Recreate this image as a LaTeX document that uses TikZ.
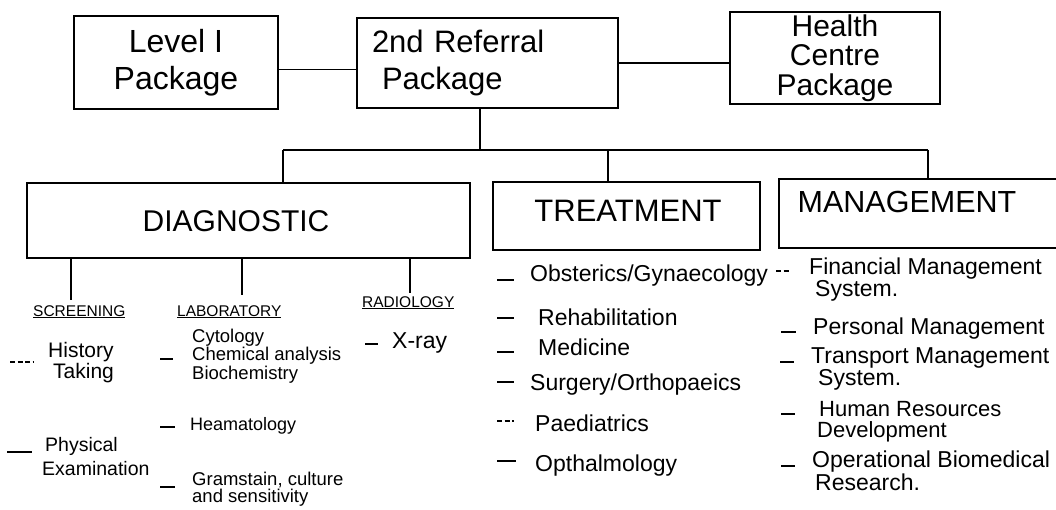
\documentclass[tikz,border=0pt]{standalone}
\usepackage{fontspec}
\setmainfont{Liberation Sans}
\usetikzlibrary{calc}
\newcommand{\fs}[2]{\fontsize{#1}{#2}\selectfont}
\begin{document}
\begin{tikzpicture}[x=1pt,y=-1pt,
  pkgbox/.style={draw, line width=2pt, inner sep=0pt},
  areabox/.style={draw, line width=2pt, inner sep=0pt},
  thinlink/.style={line width=1.1pt},
  trunk/.style={line width=2.2pt},
  tick/.style={line width=1.4pt},
  dottick/.style={line width=1.4pt, dash pattern=on 5pt off 2.5pt},
  areatext/.style={inner sep=0pt, anchor=base},
  head/.style={inner sep=0pt, anchor=base west, font=\fs{15.5}{18}},
  item/.style={inner sep=0pt, anchor=base west, align=left},
]
\useasboundingbox (0,0) rectangle (1056,510);

% ---- top level packages
\node[pkgbox, minimum width=204, minimum height=93, align=center, font=\fs{32}{37}]
  (lvl) at (176,62.5) {Level I\\Package};
\node[pkgbox, minimum width=261, minimum height=90, text width=231, align=left, font=\fs{31}{37}]
  (ref) at (487.5,63) {2nd Referral\\\hspace*{10pt}Package};
\node[pkgbox, minimum width=210, minimum height=92, align=center, font=\fs{30}{29.5}]
  (hc) at (835,58) {Health\\Centre\\Package};

\draw[thinlink] ([yshift=-7]lvl.east) -- ([yshift=-7]lvl.east -| ref.west);
\draw[thinlink] (ref.east) -- (ref.east -| hc.west);

% ---- the three areas
\node[areabox, minimum width=443, minimum height=75] (diag) at (248.5,220.5) {};
\node[areabox, minimum width=267, minimum height=68] (treat) at (626.5,216) {};
\node[inner sep=0pt, minimum width=277, minimum height=69] (mgmt) at (917.5,213.5) {};
\draw[line width=2pt] (mgmt.north east) -- (mgmt.north west) -- (mgmt.south west) -- (mgmt.south east);

\node[areatext, font=\fs{30}{34}] (diagt) at (236,232) {DIAGNOSTIC};
\node[areatext, font=\fs{31}{34}] (treatt) at (628,222) {TREATMENT};
\node[areatext, font=\fs{30.5}{34}] (mgmtt) at (907,213) {MANAGEMENT};

% ---- trunk and branches
\coordinate (busL) at (283,150);
\coordinate (busM) at (480,150);
\coordinate (busT) at (608,150);
\coordinate (busR) at (928,150);
\draw[trunk] (ref.south -| busM) -- (busM);
\draw[trunk] (busL) -- (busR);
\draw[trunk] (busL) -- (busL |- diag.north);
\draw[trunk] (busT) -- (busT |- treat.north);
\draw[trunk] (busR) -- (busR |- mgmt.north);

% ---- diagnostic branches
\coordinate (scrtop) at (71,300);
\coordinate (labtop) at (242,295);
\coordinate (radtop) at (410,293);
\draw[trunk] (diag.south -| scrtop) -- (scrtop);
\draw[trunk] (diag.south -| labtop) -- (labtop);
\draw[trunk] (diag.south -| radtop) -- (radtop);

\node[head] (scr) at (33,316) {\underline{SCREENING}};
\node[head] (lab) at (177,316) {\underline{LABORATORY}};
\node[head] (rad) at (362,307) {\underline{RADIOLOGY}};

% screening (multi-line nodes sit on the baseline of their last line)
\node[item, font=\fs{21}{13.5}] (hist) at (48,378) {History\\\hspace*{5pt}Taking};
\draw[dottick] ([shift={(-38,-16)}]hist.base west) -- ++(23,0);
\node[item, font=\fs{19.5}{24}] (phys) at (42,475) {\hspace*{3pt}Physical\\Examination};
\draw[tick] ([shift={(-35,-23)}]phys.base west) -- ++(25,0);

% laboratory
\node[item, font=\fs{18.5}{13.5}] (cyto) at (192,379) {Cytology\\Chemical analysis\\Biochemistry};
\draw[tick] ([shift={(-32,-20)}]cyto.base west) -- ++(13,0);
\node[item, font=\fs{18}{13}] (haem) at (190,430) {Heamatology};
\draw[tick] ([shift={(-30,-3)}]haem.base west) -- ++(15,0);
\node[item, font=\fs{18.5}{14}] (gram) at (192,502) {Gramstain, culture\\and sensitivity};
\draw[tick] ([shift={(-32,-15)}]gram.base west) -- ++(15,0);

% radiology
\node[item, font=\fs{23}{26}] (xray) at (392,348) {X-ray};
\draw[tick] ([shift={(-27,-4)}]xray.base west) -- ++(13,0);

% ---- treatment list
\node[item, font=\fs{23}{26}] (obs) at (530,282) {Obsterics/Gynaecology};
\draw[tick] ([shift={(-33,-2)}]obs.base west) -- ++(17,0);
\node[item, font=\fs{23}{26}] (rehab) at (538,325) {Rehabilitation};
\draw[tick] ([shift={(-41,-7)}]rehab.base west) -- ++(17,0);
\node[item, font=\fs{23}{26}] (med) at (538,355) {Medicine};
\draw[tick] ([shift={(-41,-3)}]med.base west) -- ++(17,0);
\node[item, font=\fs{23}{26}] (surg) at (530,390) {Surgery/Orthopaeics};
\draw[tick] ([shift={(-33,-8)}]surg.base west) -- ++(17,0);
\node[item, font=\fs{23}{26}] (paed) at (535,431) {Paediatrics};
\draw[dottick] ([shift={(-38,-10)}]paed.base west) -- ++(17,0);
\node[item, font=\fs{23}{26}] (opth) at (535,471) {Opthalmology};
\draw[tick] ([shift={(-38,-10)}]opth.base west) -- ++(19,0);

% ---- management list
\node[item, font=\fs{23}{19}] (fin) at (809,296) {Financial Management\\\hspace*{6pt}System.};
\draw[dottick] ([shift={(-33,-25)}]fin.base west) -- ++(14,0);
\node[item, font=\fs{23}{19}] (pers) at (813,334) {Personal Management};
\draw[tick] ([shift={(-32,-2)}]pers.base west) -- ++(15,0);
\node[item, font=\fs{23}{19}] (trans) at (811,385) {Transport Management\\\hspace*{7pt}System.};
\draw[tick] ([shift={(-31,-23)}]trans.base west) -- ++(14,0);
\node[item, font=\fs{22}{20.5}] (hum) at (817,437) {\hspace*{2pt}Human Resources\\Development};
\draw[tick] ([shift={(-36,-23)}]hum.base west) -- ++(14,0);
\node[item, font=\fs{23}{21}] (oper) at (812,490) {Operational Biomedical\\\hspace*{3pt}Research.};
\draw[tick] ([shift={(-31,-24)}]oper.base west) -- ++(14,0);
\end{tikzpicture}
\end{document}
